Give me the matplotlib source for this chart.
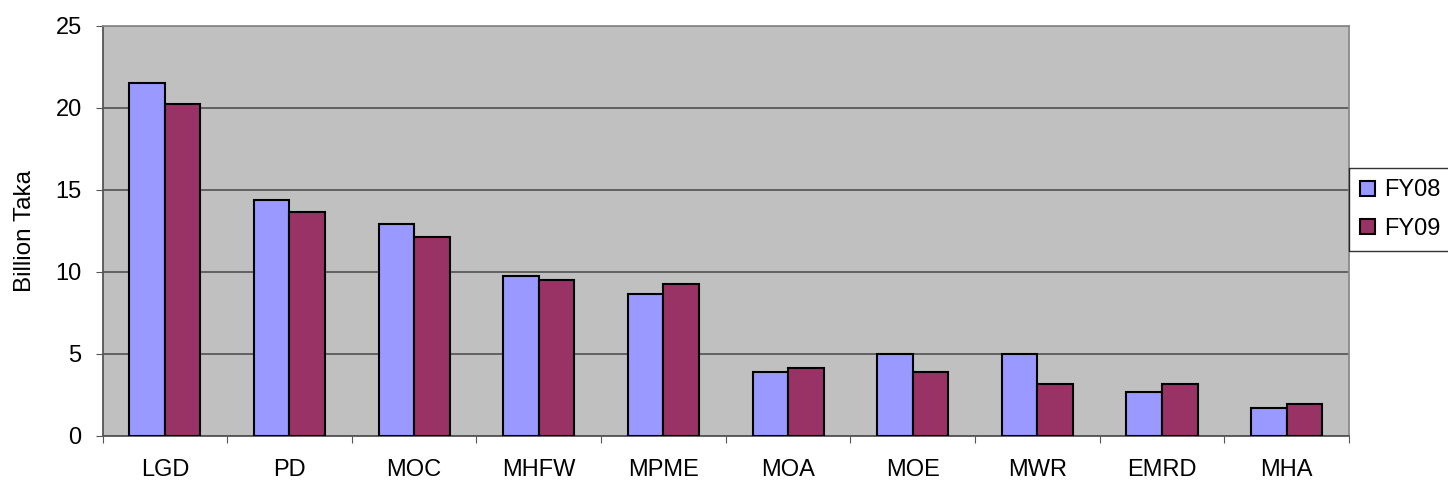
import matplotlib
matplotlib.use("Agg")
import matplotlib.pyplot as plt
import numpy as np
from matplotlib.patches import Patch

categories = ["LGD", "PD", "MOC", "MHFW", "MPME", "MOA", "MOE", "MWR", "EMRD", "MHA"]
fy08 = [21.5, 14.4, 12.9, 9.75, 8.65, 3.9, 5.0, 5.0, 2.68, 1.71]
fy09 = [20.25, 13.65, 12.1, 9.5, 9.25, 4.13, 3.9, 3.17, 3.17, 1.95]
series_names = ["FY08", "FY09"]
yticks = [0, 5, 10, 15, 20, 25]

plt.rcParams['font.family'] = ['Liberation Sans', 'DejaVu Sans']

W, H = 1448, 483
fig = plt.figure(figsize=(W / 100, H / 100), dpi=100)
left, right, top, bottom = 102.5, 1349, 25.7, 435.7
ax = fig.add_axes([left / W, (H - bottom) / H, (right - left) / W, (bottom - top) / H])
ax.set_facecolor('#C0C0C0')

x = np.arange(len(categories))
bw = 0.285
c1, c2 = '#9999FF', '#993366'
ax.bar(x - bw / 2, fy08, bw, color=c1, edgecolor='black', linewidth=1.5, zorder=3)
ax.bar(x + bw / 2, fy09, bw, color=c2, edgecolor='black', linewidth=1.5, zorder=3)

ax.set_xlim(-0.5, len(categories) - 0.5)
ax.set_ylim(0, 25)
ax.set_yticks(yticks)
ax.set_yticklabels([str(v) for v in yticks], fontsize=17)
ax.yaxis.grid(True, color='#5a5a5a', linewidth=1.3, zorder=1)
ax.set_axisbelow(True)

ax.set_xticks(np.arange(len(categories) + 1) - 0.5)
ax.set_xticklabels([])
ax.set_xticks(x, minor=True)
ax.set_xticklabels(categories, minor=True, fontsize=17)
ax.tick_params(axis='x', which='minor', length=0, pad=17)
ax.tick_params(axis='x', which='major', length=5, direction='out', color='#555555')
ax.tick_params(axis='y', length=5, direction='out', color='#555555', pad=10)

for s in ['top', 'right']:
    ax.spines[s].set_color('#8a8a8a')
    ax.spines[s].set_linewidth(1.3)
for s in ['left', 'bottom']:
    ax.spines[s].set_color('#555555')
    ax.spines[s].set_linewidth(1.3)

ax.set_ylabel('Billion Taka', fontsize=17.5, labelpad=14)

handles = [Patch(facecolor=c1, edgecolor='black', linewidth=1.5),
           Patch(facecolor=c2, edgecolor='black', linewidth=1.5)]
leg = fig.legend(handles, series_names, loc='upper left',
                 bbox_to_anchor=(1349 / W, 1 - 168 / H), fontsize=17,
                 frameon=True, fancybox=False, edgecolor='black',
                 handlelength=0.6, handleheight=0.6, handletextpad=0.4,
                 borderpad=0.48, labelspacing=0.71, borderaxespad=0)
leg.get_frame().set_linewidth(1.0)

fig.savefig('out.png', dpi=100)
